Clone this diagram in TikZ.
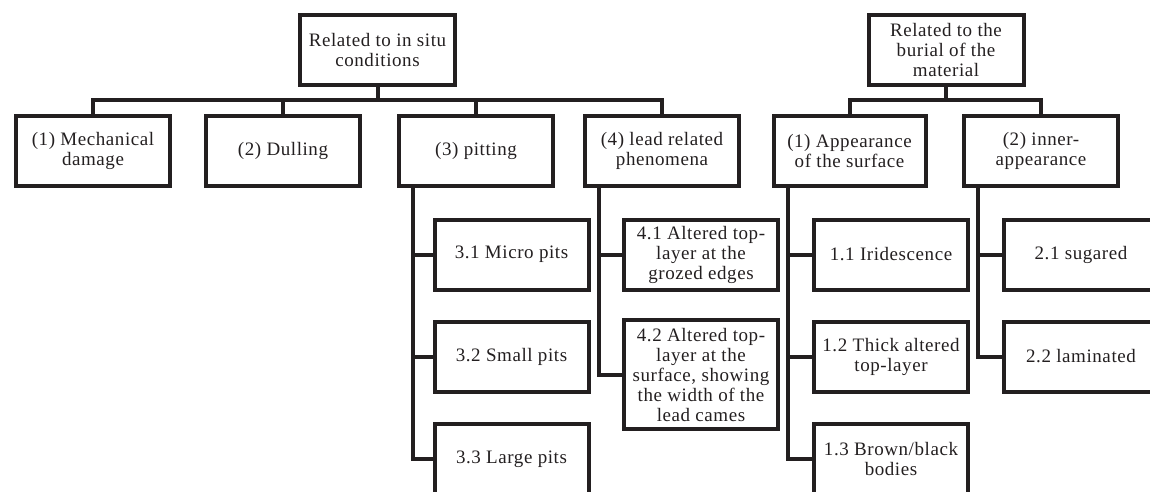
\documentclass[tikz,border=0pt]{standalone}
\usepackage{fontspec}
\setmainfont[LetterSpace=3]{Liberation Serif}
\definecolor{ink}{HTML}{231F20}
\tikzset{
	box/.style={draw=ink, line width=4pt, minimum width=154pt, minimum height=70pt, inner sep=2pt, align=center, text=ink, font=\fontsize{19}{20}\selectfont},
	link/.style={draw=ink, line width=4pt},
}
\begin{document}
\begin{tikzpicture}[x=1pt, y=-1pt]
	\useasboundingbox (0,0) rectangle (1150,492);
	\clip (0,0) rectangle (1150,492);
	\node[box, minimum width=155pt] (situ) at (377.5,50) {Related to in situ\\conditions};
	\node[box] (mech) at (93,151) {(1) Mechanical\\damage};
	\node[box] (dull) at (283,151) {(2) Dulling};
	\node[box] (pit) at (476,151) {(3) pitting};
	\node[box] (lead) at (662,151) {(4) lead related\\phenomena};
	\node[box] (pit1) at (511.5,254.5) {3.1 Micro pits};
	\node[box] (pit2) at (511.5,356.5) {3.2 Small pits};
	\node[box] (pit3) at (511.5,459) {3.3 Large pits};
	\node[box] (lead1) at (701,254.5) {4.1 Altered top-\\layer at the\\grozed edges};
	\node[box, minimum height=109pt] (lead2) at (701,374.5) {4.2 Altered top-\\layer at the\\surface, showing\\the width of the\\lead cames};
	\foreach \c in {mech,dull,pit,lead}
		\draw[link] (situ.south) -- ++(0,13) -| (\c.north);
	\foreach \s in {pit1,pit2,pit3}
		\draw[link] ([xshift=16pt]pit.south west) |- (\s.west);
	\foreach \s in {lead1,lead2}
		\draw[link] ([xshift=16pt]lead.south west) |- (\s.west);
	\node[box, minimum width=155pt] (burial) at (946,50) {Related to the\\burial of the\\material};
	\node[box, minimum width=152pt] (surf) at (849.5,151) {(1) Appearance\\of the surface};
	\node[box] (inner) at (1041,151) {(2) inner-\\appearance};
	\node[box] (surf1) at (891,254.5) {1.1 Iridescence};
	\node[box] (surf2) at (891,356.5) {1.2 Thick altered\\top-layer};
	\node[box] (surf3) at (891,459) {1.3 Brown/black\\bodies};
	\node[box] (inner1) at (1081,254.5) {2.1 sugared};
	\node[box] (inner2) at (1081,356.5) {2.2 laminated};
	\foreach \c in {surf,inner}
		\draw[link] (burial.south) -- ++(0,13) -| (\c.north);
	\foreach \s in {surf1,surf2,surf3}
		\draw[link] ([xshift=16pt]surf.south west) |- (\s.west);
	\foreach \s in {inner1,inner2}
		\draw[link] ([xshift=16pt]inner.south west) |- (\s.west);
\end{tikzpicture}
\end{document}
